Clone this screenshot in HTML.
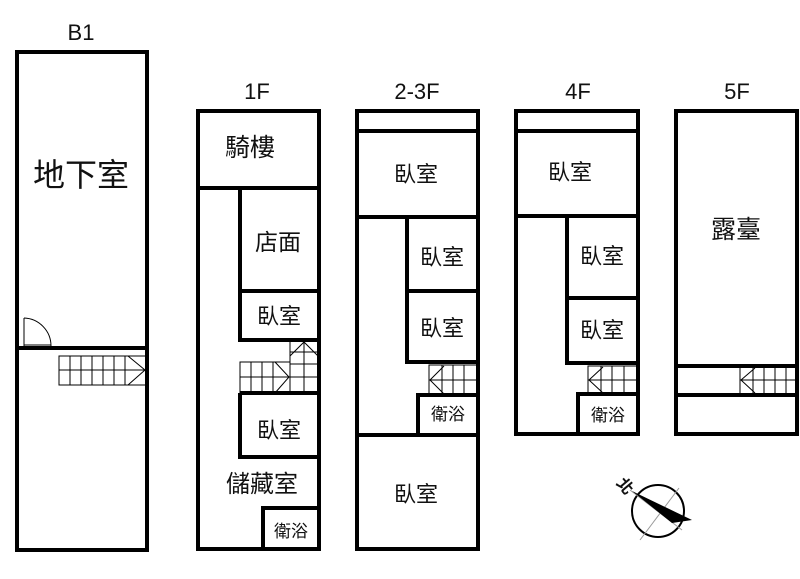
<!DOCTYPE html>
<html><head><meta charset="utf-8"><style>
html,body{margin:0;padding:0;background:#fff;}
svg{display:block}
text{font-family:"Liberation Sans","Noto Sans CJK TC",sans-serif;fill:#111;}
</style></head><body>
<svg width="800" height="579" viewBox="0 0 800 579" xmlns="http://www.w3.org/2000/svg">
<g font-size="22" text-anchor="middle">
<text x="81" y="40">B1</text>
<text x="257" y="99">1F</text>
<text x="417" y="99">2-3F</text>
<text x="578" y="99">4F</text>
<text x="737" y="99">5F</text>
</g>
<g fill="none" stroke="#000" stroke-width="4">
<rect x="17" y="52" width="130" height="498"/>
<line x1="17" y1="348" x2="147" y2="348"/>
<rect x="198" y="111" width="121" height="438"/>
<line x1="198" y1="188" x2="319" y2="188"/>
<polyline points="240,188 240,340 319,340"/>
<line x1="240" y1="291" x2="319" y2="291"/>
<polyline points="240,393 240,457 319,457"/>
<line x1="240" y1="393" x2="319" y2="393"/>
<polyline points="263,549 263,508 319,508"/>
<rect x="357" y="111" width="121" height="438"/>
<line x1="357" y1="131" x2="480" y2="131"/>
<line x1="357" y1="217" x2="478" y2="217"/>
<polyline points="407,217 407,362 480,362"/>
<line x1="405" y1="291" x2="478" y2="291"/>
<polyline points="418,435 418,395 478,395"/>
<line x1="357" y1="435" x2="478" y2="435"/>
<rect x="516" y="111" width="122" height="323"/>
<line x1="516" y1="131" x2="640" y2="131"/>
<line x1="516" y1="216" x2="640" y2="216"/>
<polyline points="567,216 567,363 640,363"/>
<line x1="565" y1="298" x2="638" y2="298"/>
<polyline points="578,434 578,394 637,394"/>
<rect x="676" y="111" width="121" height="323"/>
<line x1="676" y1="366" x2="797" y2="366"/>
<line x1="676" y1="395" x2="797" y2="395"/>
</g>
<g fill="none" stroke="#000" stroke-width="1">
<line x1="24" y1="318" x2="24" y2="347"/>
<path d="M24 318 A28 28 0 0 1 51 346"/>
<line x1="24" y1="345" x2="51" y2="345"/>
<rect x="59" y="356" width="87" height="29"/>
<line x1="59" y1="370" x2="146" y2="370"/>
<line x1="70" y1="356" x2="70" y2="385"/><line x1="81" y1="356" x2="81" y2="385"/><line x1="92" y1="356" x2="92" y2="385"/><line x1="103" y1="356" x2="103" y2="385"/><line x1="114" y1="356" x2="114" y2="385"/><line x1="125" y1="356" x2="125" y2="385"/>
<polyline points="128,356 145,370 128,385"/>
<rect x="240" y="362" width="50" height="31"/>
<line x1="240" y1="377" x2="290" y2="377"/>
<line x1="251" y1="362" x2="251" y2="393"/><line x1="262" y1="362" x2="262" y2="393"/><line x1="273" y1="362" x2="273" y2="393"/>
<polyline points="275,362 289,377 275,393"/>
<rect x="290" y="341" width="28" height="52"/>
<line x1="304" y1="341" x2="304" y2="393"/>
<line x1="290" y1="352" x2="318" y2="352"/><line x1="290" y1="364" x2="318" y2="364"/><line x1="290" y1="377" x2="318" y2="377"/>
<polyline points="290,356 304,342 318,356"/>
<rect x="429" y="365" width="48" height="30"/>
<line x1="429" y1="380" x2="477" y2="380"/>
<line x1="442" y1="365" x2="442" y2="395"/><line x1="453" y1="365" x2="453" y2="395"/><line x1="464" y1="365" x2="464" y2="395"/>
<polyline points="444,366 430,380 444,394"/>
<rect x="588" y="366" width="49" height="28"/>
<line x1="588" y1="380" x2="637" y2="380"/>
<line x1="601" y1="366" x2="601" y2="394"/><line x1="612" y1="366" x2="612" y2="394"/><line x1="624" y1="366" x2="624" y2="394"/>
<polyline points="603,367 589,380 603,393"/>
<rect x="740" y="367" width="57" height="27"/>
<line x1="740" y1="380" x2="797" y2="380"/>
<line x1="753" y1="367" x2="753" y2="394"/><line x1="764" y1="367" x2="764" y2="394"/><line x1="775" y1="367" x2="775" y2="394"/><line x1="786" y1="367" x2="786" y2="394"/>
<polyline points="755,368 741,380 755,393"/>
</g>
<g>
<circle cx="658" cy="511" r="26" fill="none" stroke="#000" stroke-width="2"/>
<line x1="640" y1="540" x2="679" y2="488" stroke="#999" stroke-width="1"/>
<line x1="630" y1="490" x2="682" y2="530" stroke="#999" stroke-width="1"/>
<polygon points="632,491 692,520 672,523" fill="#000"/>
<text x="624" y="491" font-size="16" font-weight="bold" transform="rotate(50 624 487)" text-anchor="middle">北</text>
</g>
<g text-anchor="middle">
<text x="81" y="186" font-size="32">地下室</text>
<text x="250" y="156" font-size="25">騎樓</text>
<text x="278" y="250" font-size="23">店面</text>
<text x="279" y="324" font-size="22">臥室</text>
<text x="279" y="438" font-size="22">臥室</text>
<text x="262" y="492" font-size="24">儲藏室</text>
<text x="291" y="537" font-size="17">衛浴</text>
<text x="416" y="182" font-size="22">臥室</text>
<text x="442" y="265" font-size="22">臥室</text>
<text x="442" y="336" font-size="22">臥室</text>
<text x="448" y="420" font-size="17">衛浴</text>
<text x="416" y="502" font-size="22">臥室</text>
<text x="570" y="180" font-size="22">臥室</text>
<text x="602" y="264" font-size="22">臥室</text>
<text x="602" y="338" font-size="22">臥室</text>
<text x="608" y="421" font-size="17">衛浴</text>
<text x="736" y="238" font-size="25">露臺</text>
</g>
</svg>
</body></html>
